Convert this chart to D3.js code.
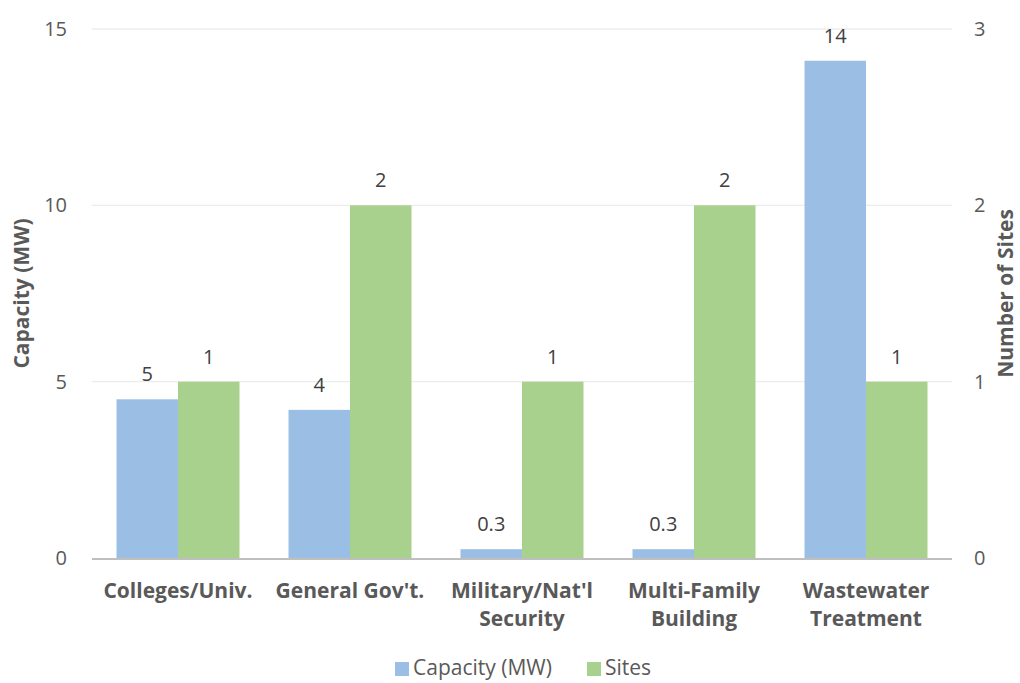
<!DOCTYPE html>
<html>
<head>
<meta charset="utf-8">
<script src="https://cdn.jsdelivr.net/npm/d3@7"></script>
<style>
  html, body { margin: 0; padding: 0; background: #fff; }
  svg { display: block; font-family: "Open Sans", "Noto Sans", sans-serif; }
</style>
</head>
<body>
<svg id="chart" width="1020" height="683"></svg>
<script>
// Category labels (two-line where the axis wraps them)
const categories = [
  ["Colleges/Univ."],
  ["General Gov't."],
  ["Military/Nat'l", "Security"],
  ["Multi-Family", "Building"],
  ["Wastewater", "Treatment"]
];
const capacityMW = [4.5, 4.2, 0.25, 0.25, 14.1];
const sites = [1, 2, 1, 2, 1];
const leftTicks = [0, 5, 10, 15];
const rightTicks = [0, 1, 2, 3];
const seriesNames = ["Capacity (MW)", "Sites"];
const seriesColors = ["#9bbfe4", "#a9d18e"];

const svg = d3.select("#chart");
const margin = { left: 92, right: 68, top: 29, bottom: 125 };
const W = 1020, H = 683;
const x0 = margin.left, x1 = W - margin.right;
const yBase = H - margin.bottom;
const fs = 21;

const x = d3.scaleBand().domain(d3.range(categories.length)).range([x0, x1]).padding(0);
const inner = d3.scaleBand().domain([0, 1]).range([24.5, x.bandwidth() - 24.5]).padding(0);
const yL = d3.scaleLinear().domain([0, 15]).range([yBase, margin.top]);
const yR = d3.scaleLinear().domain([0, 3]).range([yBase, margin.top]);

// gridlines
svg.append("g").selectAll("line").data(leftTicks.filter(t => t > 0)).join("line")
  .attr("x1", x0).attr("x2", x1)
  .attr("y1", d => yL(d)).attr("y2", d => yL(d))
  .attr("stroke", "#ececec").attr("stroke-width", 1.3);

// bars
const groups = svg.append("g").selectAll("g").data(categories).join("g")
  .attr("transform", (d, i) => `translate(${x(i)},0)`);

groups.append("rect")
  .attr("x", inner(0)).attr("width", inner.bandwidth())
  .attr("y", (d, i) => yL(capacityMW[i]))
  .attr("height", (d, i) => yBase - yL(capacityMW[i]))
  .attr("fill", seriesColors[0]);

groups.append("rect")
  .attr("x", inner(1)).attr("width", inner.bandwidth())
  .attr("y", (d, i) => yR(sites[i]))
  .attr("height", (d, i) => yBase - yR(sites[i]))
  .attr("fill", seriesColors[1]);

// value labels
const fmtCap = v => v < 1 ? d3.format(".1f")(v) : d3.format(".0f")(v);
groups.append("text")
  .attr("x", inner(0) + inner.bandwidth() / 2)
  .attr("y", (d, i) => yL(capacityMW[i]) - 18)
  .attr("text-anchor", "middle").attr("font-size", 20).attr("fill", "#404040")
  .text((d, i) => fmtCap(capacityMW[i]));

groups.append("text")
  .attr("x", inner(1) + inner.bandwidth() / 2)
  .attr("y", (d, i) => yR(sites[i]) - 18)
  .attr("text-anchor", "middle").attr("font-size", 20).attr("fill", "#404040")
  .text((d, i) => d3.format("d")(sites[i]));

// baseline
svg.append("line").attr("x1", x0).attr("x2", x1)
  .attr("y1", yBase + 1).attr("y2", yBase + 1)
  .attr("stroke", "#bfbfbf").attr("stroke-width", 2);

// left axis
const gl = svg.append("g").attr("transform", `translate(${x0 - 25},0)`)
  .call(d3.axisLeft(yL).tickValues(leftTicks).tickFormat(d3.format("d")).tickSize(0).tickPadding(0));
gl.select(".domain").remove();
gl.selectAll("text").attr("font-size", 20).attr("fill", "#595959").attr("font-family", "Open Sans");

// right axis
const gr = svg.append("g").attr("transform", `translate(${x1 + 22},0)`)
  .call(d3.axisRight(yR).tickValues(rightTicks).tickFormat(d3.format("d")).tickSize(0).tickPadding(0));
gr.select(".domain").remove();
gr.selectAll("text").attr("font-size", 20).attr("fill", "#595959").attr("font-family", "Open Sans");

// category labels
groups.append("text")
  .attr("x", x.bandwidth() / 2)
  .attr("text-anchor", "middle").attr("font-size", fs).attr("font-weight", "bold").attr("fill", "#595959")
  .selectAll("tspan").data(d => d).join("tspan")
  .attr("x", x.bandwidth() / 2)
  .attr("y", (d, j) => yBase + 40 + j * 28)
  .text(d => d);

// axis titles
svg.append("text")
  .attr("transform", `translate(29,${(yBase + margin.top) / 2}) rotate(-90)`)
  .attr("text-anchor", "middle").attr("font-size", fs).attr("font-weight", "bold").attr("fill", "#595959")
  .text("Capacity (MW)");
svg.append("text")
  .attr("transform", `translate(1013,${(yBase + margin.top) / 2}) rotate(-90)`)
  .attr("text-anchor", "middle").attr("font-size", fs).attr("font-weight", "bold").attr("fill", "#595959")
  .text("Number of Sites");

// legend
const legend = svg.append("g").attr("transform", "translate(395,675)");
const itemX = [0, 192];
seriesNames.forEach((name, i) => {
  const g = legend.append("g").attr("transform", `translate(${itemX[i]},0)`);
  g.append("rect").attr("x", 0).attr("y", -13).attr("width", 14).attr("height", 14).attr("fill", seriesColors[i]);
  g.append("text").attr("x", 18).attr("y", 0).attr("font-size", fs).attr("fill", "#595959").text(name);
});
</script>
</body>
</html>
